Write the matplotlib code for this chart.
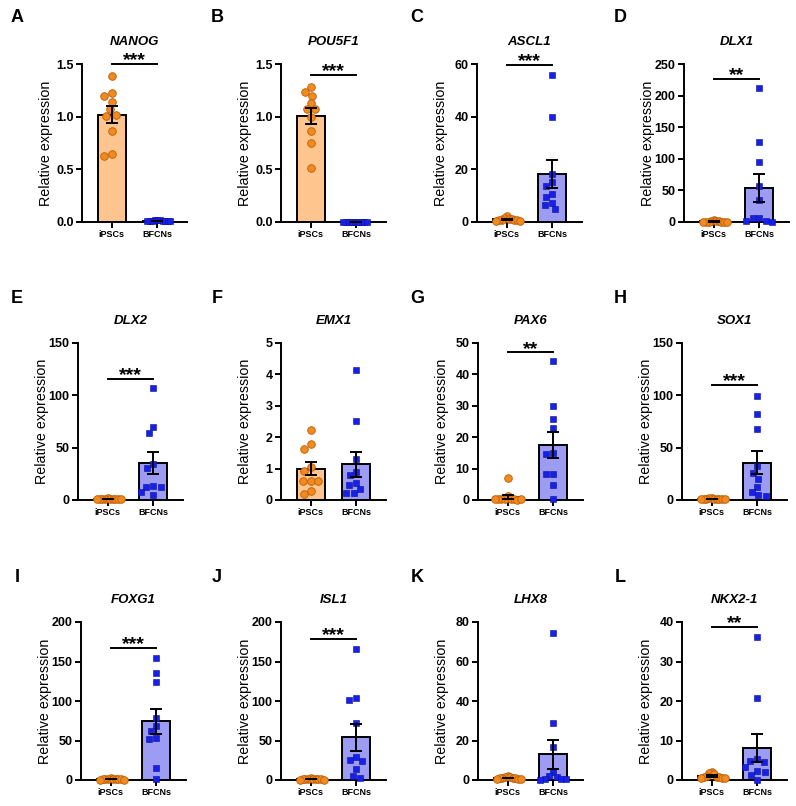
import numpy as np
import matplotlib
matplotlib.use("Agg")
import matplotlib.pyplot as plt

plt.rcParams["font.family"] = ["Liberation Sans", "DejaVu Sans"]

# values, 10 samples per group
genes = ["NANOG", "POU5F1", "ASCL1", "DLX1", "DLX2", "EMX1",
         "PAX6", "SOX1", "FOXG1", "ISL1", "LHX8", "NKX2-1"]
panel_letters = ["A", "B", "C", "D", "E", "F", "G", "H", "I", "J", "K", "L"]
groups = ["iPSCs", "BFCNs"]

nanog_ipsc = [1.39, 1.22, 1.20, 1.14, 1.07, 1.02, 1.01, 0.86, 0.65, 0.63]
nanog_bfcn = [0.018, 0.016, 0.015, 0.014, 0.013, 0.012, 0.011, 0.010, 0.009, 0.008]
pou5f1_ipsc = [1.28, 1.23, 1.20, 1.13, 1.07, 1.07, 1.00, 0.86, 0.75, 0.51]
pou5f1_bfcn = [0.003, 0.002, 0.002, 0.002, 0.001, 0.001, 0.001, 0.001, 0.001, 0.001]
ascl1_ipsc = [2.4, 1.4, 1.2, 1.0, 0.9, 0.8, 0.7, 0.6, 0.5, 0.5]
ascl1_bfcn = [56.0, 40.0, 18.4, 15.2, 13.8, 10.8, 9.6, 7.4, 6.5, 4.8]
dlx1_ipsc = [3.5, 1.2, 0.9, 0.8, 0.7, 0.6, 0.6, 0.6, 0.6, 0.5]
dlx1_bfcn = [211.7, 125.8, 94.9, 57.1, 35.1, 6.8, 5.8, 2.1, 1.0, 0.5]
dlx2_ipsc = [1.6, 1.4, 1.2, 1.1, 1.0, 0.9, 0.8, 0.8, 0.6, 0.6]
dlx2_bfcn = [106.9, 69.5, 64.0, 34.3, 30.4, 13.6, 12.7, 12.0, 7.6, 4.4]
emx1_ipsc = [2.22, 1.77, 1.64, 1.05, 0.93, 0.62, 0.62, 0.60, 0.30, 0.20]
emx1_bfcn = [4.15, 2.51, 1.29, 0.89, 0.79, 0.55, 0.47, 0.35, 0.23, 0.21]
pax6_ipsc = [6.9, 1.3, 0.3, 0.2, 0.2, 0.2, 0.15, 0.25, 0.2, 0.3]
pax6_bfcn = [44.3, 30.0, 25.8, 23.0, 15.0, 14.8, 8.3, 8.2, 4.9, 0.3]
sox1_ipsc = [2.0, 1.5, 1.2, 1.0, 0.9, 0.8, 0.8, 0.7, 0.6, 0.5]
sox1_bfcn = [99.7, 82.5, 67.5, 32.2, 26.1, 20.4, 12.7, 8.0, 4.8, 3.8]
foxg1_ipsc = [2.1, 1.4, 1.1, 1.0, 0.9, 0.9, 0.8, 0.7, 0.6, 0.5]
foxg1_bfcn = [154.4, 135.9, 123.6, 78.0, 68.4, 62.4, 53.2, 51.5, 14.8, 0.8]
isl1_ipsc = [1.9, 1.5, 1.2, 1.1, 0.9, 0.8, 0.8, 0.7, 0.6, 0.5]
isl1_bfcn = [165.4, 103.4, 100.8, 72.2, 29.5, 24.9, 24.0, 13.5, 5.1, 2.1]
lhx8_ipsc = [1.8, 1.5, 1.3, 1.1, 1.0, 0.9, 0.8, 0.6, 0.5, 0.5]
lhx8_bfcn = [74.6, 29.1, 16.8, 4.0, 2.0, 1.5, 0.4, 0.3, 0.3, 0.2]
nkx21_ipsc = [2.1, 1.8, 1.4, 1.0, 0.8, 0.7, 0.7, 0.6, 0.5, 0.4]
nkx21_bfcn = [36.2, 20.8, 5.2, 4.8, 4.6, 3.4, 2.4, 2.1, 1.3, 0.1]

ipsc_values = [nanog_ipsc, pou5f1_ipsc, ascl1_ipsc, dlx1_ipsc, dlx2_ipsc, emx1_ipsc,
               pax6_ipsc, sox1_ipsc, foxg1_ipsc, isl1_ipsc, lhx8_ipsc, nkx21_ipsc]
bfcn_values = [nanog_bfcn, pou5f1_bfcn, ascl1_bfcn, dlx1_bfcn, dlx2_bfcn, emx1_bfcn,
               pax6_bfcn, sox1_bfcn, foxg1_bfcn, isl1_bfcn, lhx8_bfcn, nkx21_bfcn]

y_max = [1.5, 1.5, 60, 250, 150, 5, 50, 150, 200, 200, 80, 40]
y_step = [0.5, 0.5, 20, 50, 50, 1, 10, 50, 50, 50, 20, 10]
stars = ["***", "***", "***", "**", "***", "", "**", "***", "***", "***", "", "**"]
sig_y = [1.5, 1.4, 59.6, 226, 116, None, 47, 110, 167, 179, None, 38.7]

# colours
IPSC_BAR = "#FEC68E"
IPSC_DOT = "#F38A1F"
IPSC_EDGE = "#B85C08"
BFCN_BAR = "#9C9CF2"
BFCN_DOT = "#1620E6"
BFCN_EDGE = "#0A0F9A"

W, H = 796, 806
# layout in pixels (left edge per column, top/bottom per row)
col_left = [[82, 281, 477, 684], [78, 281, 478, 682], [81, 281, 478, 682]]
row_top = [64, 343, 622]
row_bottom = [222, 500, 780]
letter_x = [17, 217, 417, 620]
letter_y = [18, 298, 577]
AX_W = 105
XLIM = (0.35, 2.65)


def swarm(y_px, d=7.5, limit=13.0):
    """Simple beeswarm: horizontal pixel offsets so markers do not overlap."""
    placed = []
    for y in y_px:
        cands = [0.0]
        for px, py in placed:
            dy = abs(y - py)
            if dy < d:
                dx = np.sqrt(d * d - dy * dy)
                cands += [px - dx, px + dx]
        cands.sort(key=abs)
        for c in cands:
            if all((c - px) ** 2 + (y - py) ** 2 >= d * d - 1e-6 for px, py in placed):
                placed.append((c, y))
                break
    off = np.array([p[0] for p in placed])
    if np.abs(off).max() > limit:
        off = off * limit / np.abs(off).max()
    return off


fig = plt.figure(figsize=(W / 100, H / 100), dpi=100)

for i, gene in enumerate(genes):
    r, c = divmod(i, 4)
    left = col_left[r][c]
    top, bottom = row_top[r], row_bottom[r]
    ax = fig.add_axes([left / W, 1 - bottom / H, AX_W / W, (bottom - top) / H])

    vals = [np.array(ipsc_values[i]), np.array(bfcn_values[i])]
    means = [v.mean() for v in vals]
    sems = [v.std(ddof=1) / np.sqrt(len(v)) for v in vals]

    ax.bar([1, 2], means, width=0.62, color=[IPSC_BAR, BFCN_BAR],
           edgecolor="black", linewidth=1.4, zorder=1)

    px_per_x = AX_W / (XLIM[1] - XLIM[0])
    px_per_y = (bottom - top) / y_max[i]
    for k, v in enumerate(vals):
        off = swarm(v * px_per_y)
        xs = (k + 1) + off / px_per_x
        if k == 0:
            ax.scatter(xs, v, s=30, marker="o", color=IPSC_DOT, edgecolor=IPSC_EDGE,
                       linewidth=0.6, zorder=3, clip_on=False)
        else:
            ax.scatter(xs, v, s=24, marker="s", color=BFCN_DOT, edgecolor=BFCN_EDGE,
                       linewidth=0.4, zorder=3, clip_on=False)

    ax.errorbar([1, 2], means, yerr=sems, fmt="none", ecolor="black",
                elinewidth=1.4, capsize=4, capthick=1.4, zorder=4, clip_on=False)

    ax.set_xlim(*XLIM)
    ax.set_ylim(0, y_max[i])
    ticks = np.arange(0, y_max[i] + y_step[i] / 2, y_step[i])
    ax.set_yticks(ticks)
    if y_max[i] < 2:
        ax.set_yticklabels(["%.1f" % t for t in ticks], fontweight="bold", fontsize=9)
    else:
        ax.set_yticklabels(["%d" % t for t in ticks], fontweight="bold", fontsize=9)
    ax.set_xticks([1, 2])
    ax.set_xticklabels(groups, fontweight="bold", fontsize=6.5)
    ax.tick_params(axis="both", direction="out", length=4, width=1.4, pad=2)

    for side in ["top", "right"]:
        ax.spines[side].set_visible(False)
    for side in ["left", "bottom"]:
        ax.spines[side].set_linewidth(1.4)

    ax.set_ylabel("Relative expression", fontsize=10.3, va="center")
    ax.yaxis.set_label_coords(-36 / AX_W, 0.5)

    # gene name above the panel
    fig.text((left + AX_W / 2) / W, 1 - (top - 22) / H, gene, ha="center", va="center",
             fontsize=9.5, fontweight="bold", fontstyle="italic")

    # significance bar
    if stars[i]:
        ax.plot([1, 2], [sig_y[i], sig_y[i]], color="black", linewidth=1.4, clip_on=False)
        ax.annotate(stars[i], xy=(1.5, sig_y[i]), xytext=(0, -1), textcoords="offset points",
                    ha="center", va="baseline", fontsize=14, fontweight="bold",
                    annotation_clip=False)

    fig.text(letter_x[c] / W, 1 - letter_y[r] / H, panel_letters[i], ha="center", va="center",
             fontsize=13, fontweight="bold")

fig.savefig("out.png", dpi=100)
plt.close(fig)
